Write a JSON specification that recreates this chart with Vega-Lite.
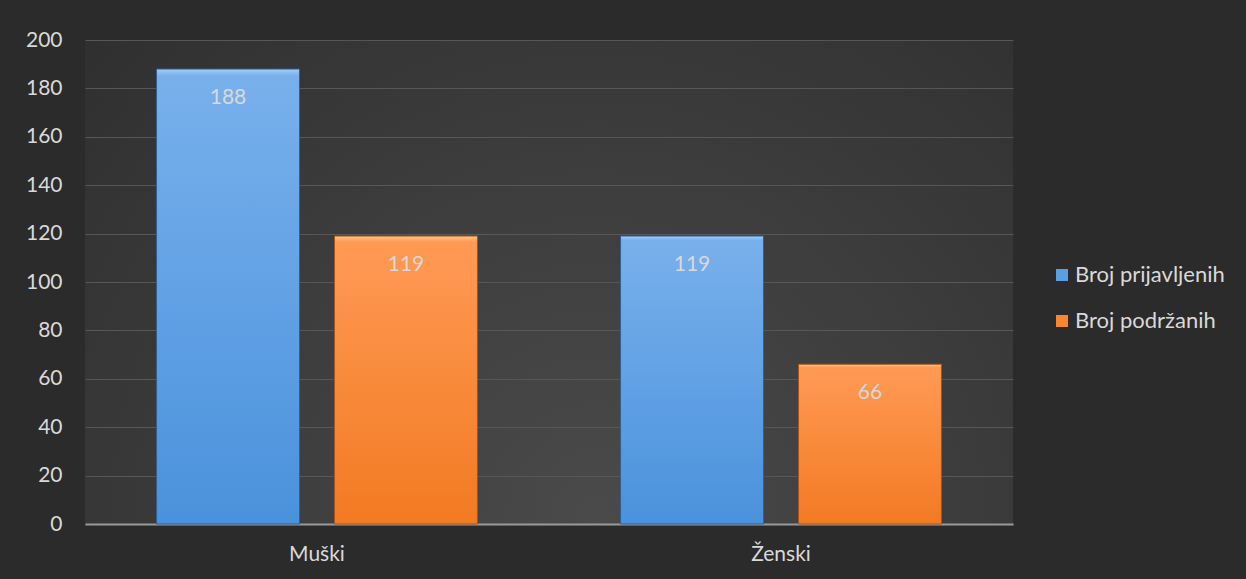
{
  "$schema": "https://vega.github.io/schema/vega-lite/v6.json",
  "width": 928,
  "height": 484,
  "autosize": {"type": "none"},
  "padding": {"left": 85, "top": 40, "right": 233, "bottom": 55},
  "background": "#2b2b2b",
  "config": {
    "font": "Lato",
    "view": {
      "stroke": null,
      "fill": {
        "gradient": "radial",
        "x1": 0.55, "y1": 0.75, "r1": 0,
        "x2": 0.55, "y2": 0.75, "r2": 0.8,
        "stops": [
          {"offset": 0, "color": "#4a4a4a"},
          {"offset": 1, "color": "#2e2e2e"}
        ]
      }
    }
  },
  "data": {
    "values": [
      {"spol": "Muški", "serija": "Broj prijavljenih", "broj": 188},
      {"spol": "Muški", "serija": "Broj podržanih", "broj": 119},
      {"spol": "Ženski", "serija": "Broj prijavljenih", "broj": 119},
      {"spol": "Ženski", "serija": "Broj podržanih", "broj": 66}
    ]
  },
  "encoding": {
    "x": {
      "field": "spol",
      "type": "nominal",
      "sort": ["Muški", "Ženski"],
      "scale": {"paddingInner": 0, "paddingOuter": 0},
      "axis": {
        "title": null,
        "labelAngle": 0,
        "labelFontSize": 21,
        "labelColor": "#d9d9d9",
        "labelPadding": 19,
        "ticks": false,
        "domainColor": "#9a9a9a",
        "domainWidth": 2,
        "grid": false
      }
    },
    "xOffset": {
      "field": "serija",
      "type": "nominal",
      "sort": ["Broj prijavljenih", "Broj podržanih"],
      "scale": {"paddingInner": 0.1966, "paddingOuter": 0.402}
    },
    "y": {
      "field": "broj",
      "type": "quantitative",
      "scale": {"domain": [0, 200], "nice": false},
      "axis": {
        "title": null,
        "values": [0, 20, 40, 60, 80, 100, 120, 140, 160, 180, 200],
        "labelFontSize": 21,
        "labelColor": "#d9d9d9",
        "labelPadding": 23,
        "ticks": false,
        "domain": false,
        "gridColor": "#575757",
        "gridWidth": 1.2
      }
    }
  },
  "layer": [
    {
      "mark": {"type": "bar"},
      "encoding": {
        "color": {
          "field": "serija",
          "type": "nominal",
          "sort": ["Broj prijavljenih", "Broj podržanih"],
          "scale": {"range": ["#5a9fe3", "#f7862e"]},
          "legend": {
            "title": null,
            "orient": "none",
            "legendX": 966,
            "legendY": 224,
            "symbolType": "square",
            "symbolSize": 144,
            "symbolStrokeWidth": 0,
            "labelFontSize": 22,
            "labelColor": "#d9d9d9",
            "labelOffset": 2,
            "rowPadding": 24
          }
        }
      }
    },
    {
      "transform": [{"filter": "datum.serija === 'Broj prijavljenih'"}],
      "mark": {
        "type": "bar",
        "stroke": "#2f5f93",
        "strokeWidth": 1,
        "fill": {
          "gradient": "linear",
          "x1": 0, "y1": 0, "x2": 0, "y2": 1,
          "stops": [
            {"offset": 0, "color": "#9fd0f8"},
            {"offset": 0.015, "color": "#78b0ec"},
            {"offset": 1, "color": "#4a92dc"}
          ]
        }
      }
    },
    {
      "transform": [{"filter": "datum.serija === 'Broj podržanih'"}],
      "mark": {
        "type": "bar",
        "stroke": "#a8521a",
        "strokeWidth": 1,
        "fill": {
          "gradient": "linear",
          "x1": 0, "y1": 0, "x2": 0, "y2": 1,
          "stops": [
            {"offset": 0, "color": "#ffc890"},
            {"offset": 0.02, "color": "#ff9a55"},
            {"offset": 1, "color": "#f27a22"}
          ]
        }
      }
    },
    {
      "mark": {
        "type": "text",
        "baseline": "middle",
        "align": "center",
        "dy": 29,
        "fontSize": 21,
        "color": "#d9d9d9"
      },
      "encoding": {
        "text": {"field": "broj", "type": "quantitative"}
      }
    }
  ]
}
